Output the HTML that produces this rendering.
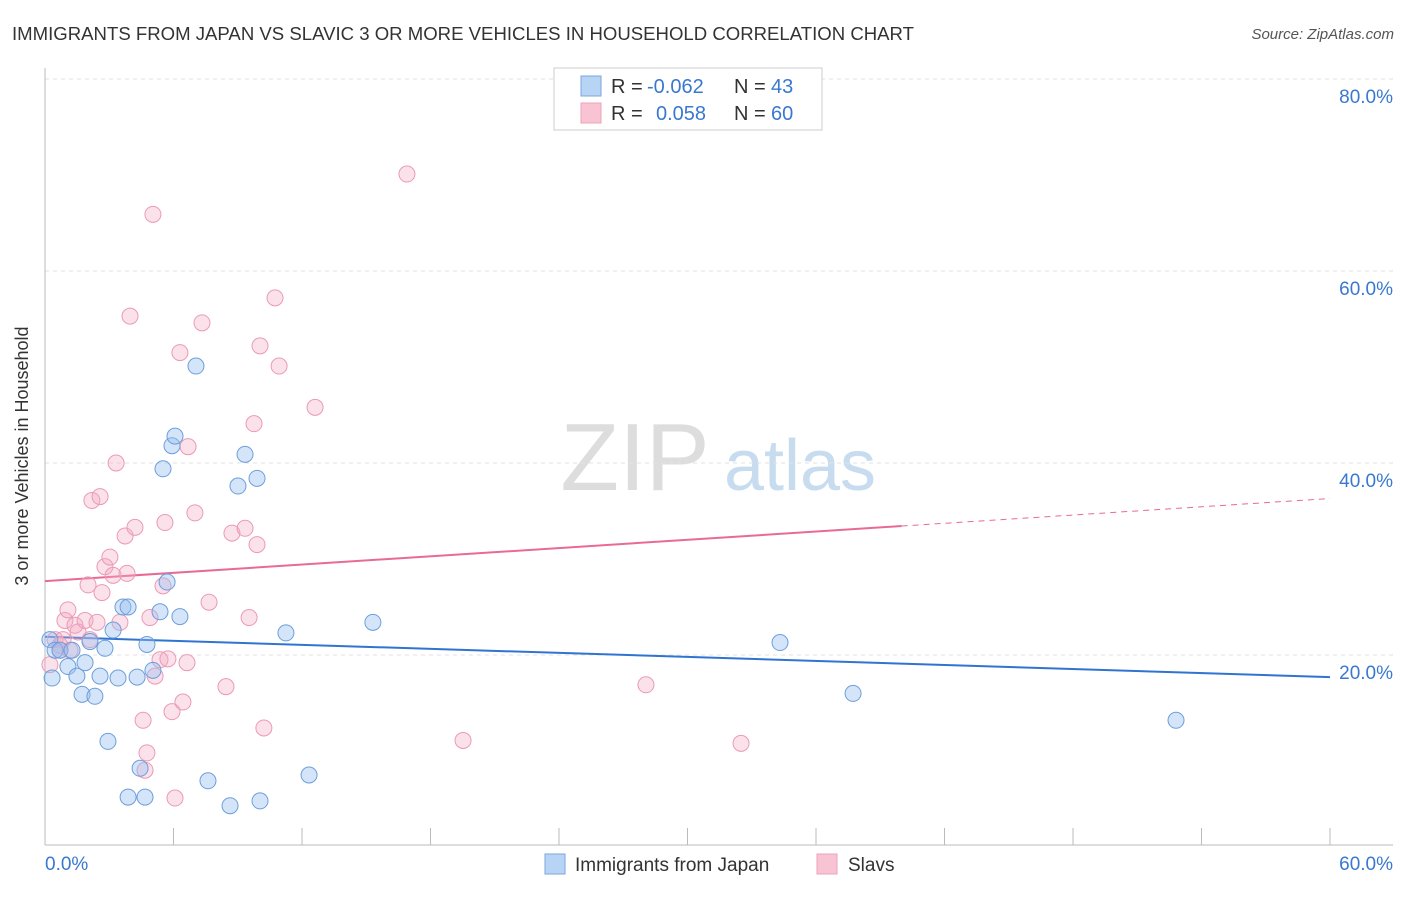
<!DOCTYPE html>
<html><head><meta charset="utf-8"><style>
body{margin:0;background:#fff;font-family:"Liberation Sans",sans-serif;}
svg text{font-family:"Liberation Sans",sans-serif;}
</style></head><body>
<svg id="chart" width="1406" height="892">
<text x="12" y="40" font-size="18" fill="#333" textLength="902" lengthAdjust="spacingAndGlyphs">IMMIGRANTS FROM JAPAN VS SLAVIC 3 OR MORE VEHICLES IN HOUSEHOLD CORRELATION CHART</text>
<text x="1394" y="39" font-size="15" fill="#555" font-style="italic" text-anchor="end">Source: ZipAtlas.com</text>
<text x="28" y="456" font-size="18" fill="#333" text-anchor="middle" transform="rotate(-90 28 456)">3 or more Vehicles in Household</text>
<g><text x="635" y="490" font-size="96" fill="#ddd" text-anchor="middle" font-family="Liberation Serif,serif">ZIP</text><text x="800" y="490" font-size="72" fill="#c8dcf0" text-anchor="middle">atlas</text></g>
<g id="grid"></g><g id="axes"></g><g id="lines"></g><g id="pts"></g>
<g>
<rect x="554" y="68" width="268" height="62" fill="#fff" stroke="#ccc"/>
<rect x="581" y="76" width="20" height="20" fill="#b8d4f4" stroke="#7aa6dc"/>
<rect x="581" y="103" width="20" height="20" fill="#f8c4d4" stroke="#eea0ba"/>
<text x="611" y="93" font-size="20" fill="#333">R =</text>
<text x="647" y="93" font-size="20" fill="#3a78d0">-0.062</text>
<text x="734" y="93" font-size="20" fill="#333">N =</text>
<text x="771" y="93" font-size="20" fill="#3a78d0">43</text>
<text x="611" y="120" font-size="20" fill="#333">R =</text>
<text x="656" y="120" font-size="20" fill="#3a78d0">0.058</text>
<text x="734" y="120" font-size="20" fill="#333">N =</text>
<text x="771" y="120" font-size="20" fill="#3a78d0">60</text>
</g>
<g>
<rect x="545" y="854" width="20" height="20" fill="#b8d4f4" stroke="#7aa6dc"/>
<text x="575" y="871" font-size="19" fill="#333">Immigrants from Japan</text>
<rect x="817" y="854" width="20" height="20" fill="#f8c4d4" stroke="#eea0ba"/>
<text x="848" y="871" font-size="19" fill="#333">Slavs</text>
</g>
</svg>
<script>
const blueX=[0.23,0.47,0.33,0.70,1.07,1.26,1.49,1.73,1.87,2.10,2.33,2.57,2.80,2.94,3.18,3.41,3.64,3.88,3.88,4.30,4.44,4.67,4.76,5.04,5.37,5.51,5.70,5.93,6.07,6.30,7.05,7.61,8.64,9.01,9.34,9.90,10.04,11.25,12.33,15.31,34.32,37.73,52.81];
const blueY=[21.6,20.5,17.6,20.5,18.8,20.5,17.8,15.9,19.2,21.4,15.7,17.8,20.7,11.0,22.6,17.6,25.0,25.0,5.2,17.7,8.2,5.2,21.1,18.4,24.5,39.4,27.6,41.8,42.8,24.0,50.1,6.9,4.3,37.6,40.9,38.4,4.8,22.3,7.5,23.4,21.3,16.0,13.2];
const pinkX=[0.23,0.47,0.70,0.84,0.93,1.07,1.17,1.40,1.54,1.87,2.01,2.19,2.43,2.57,2.66,2.80,3.03,3.18,3.32,3.50,3.74,3.83,3.97,4.20,4.58,4.67,4.76,4.90,5.04,5.14,5.37,5.51,5.60,5.74,5.93,6.07,6.30,6.44,6.63,6.68,7.00,7.33,7.66,8.45,8.73,9.34,9.53,9.76,9.90,10.04,10.22,10.74,10.93,12.61,16.90,19.52,28.06,32.50,2.10,0.70];
const pinkY=[19.0,21.6,21.0,21.6,23.6,24.7,20.5,23.1,22.4,23.6,27.3,36.1,23.4,36.5,26.5,29.2,30.2,28.3,40.0,23.4,32.4,28.5,55.3,33.3,13.2,8.0,9.8,23.9,65.9,17.8,19.5,27.2,33.8,19.6,14.1,5.1,51.5,15.1,19.2,41.7,34.8,54.6,25.5,16.7,32.7,33.2,23.9,44.1,31.5,52.2,12.4,57.2,50.1,45.8,70.1,11.1,16.9,10.8,21.6,20.5];
const yTicks=[20,40,60,80];
const yTickLabels=["20.0%","40.0%","60.0%","80.0%"];
const blueTrend=[21.9,17.7];
const pinkTrend=[27.7,36.3];
const NS="http://www.w3.org/2000/svg";
const X=v=>45+v*(1285/60), Y=v=>847-v*9.6;
function mk(p,t,a){const e=document.createElementNS(NS,t);for(const k in a)e.setAttribute(k,a[k]);document.getElementById(p).appendChild(e);return e;}
yTicks.forEach((t,i)=>{
 const g=mk('grid','line',{x1:45,x2:1393,y1:Y(t),y2:Y(t),stroke:'#e2e2e2','stroke-dasharray':'4,4'});
 
 
 const l=mk('grid','text',{x:1393,y:Y(t)+24,'font-size':19,fill:'#3a78d0','text-anchor':'end'});l.textContent=yTickLabels[i];
 
 
});
mk('axes','line',{x1:45,x2:45,y1:68,y2:845,stroke:'#bbb'});
mk('axes','line',{x1:45,x2:1393,y1:845,y2:845,stroke:'#bbb'});
for(let i=1;i<=10;i++){const t=mk('axes','line',{x1:X(i*6),x2:X(i*6),y1:828,y2:845,stroke:'#bbb'});
 
 }
const x0=mk('axes','text',{x:45,y:870,'font-size':19,fill:'#3a78d0'});x0.textContent='0.0%';


const x1=mk('axes','text',{x:1393,y:870,'font-size':19,fill:'#3a78d0','text-anchor':'end'});x1.textContent='60.0%';


const bl=mk('lines','line',{x1:X(0),x2:X(60),y1:Y(blueTrend[0]),y2:Y(blueTrend[1]),stroke:'#2f74d0','stroke-width':2});


const pm=pinkTrend[0]+(pinkTrend[1]-pinkTrend[0])*40/60;
const pl=mk('lines','line',{x1:X(0),x2:X(40),y1:Y(pinkTrend[0]),y2:Y(pm),stroke:'#e86a96','stroke-width':2});


const pd=mk('lines','line',{x1:X(40),x2:X(60),y1:Y(pm),y2:Y(pinkTrend[1]),stroke:'#e86a96','stroke-width':1,'stroke-dasharray':'6,5'});


pinkX.forEach((v,i)=>{const c=mk('pts','circle',{cx:X(v),cy:Y(pinkY[i]),r:8,fill:'rgba(244,170,196,0.35)',stroke:'#eb9ab6','stroke-width':1});
 
 });
blueX.forEach((v,i)=>{const c=mk('pts','circle',{cx:X(v),cy:Y(blueY[i]),r:8,fill:'rgba(150,190,240,0.4)',stroke:'#6c9edc','stroke-width':1});
 
 });
</script>
</body></html>
